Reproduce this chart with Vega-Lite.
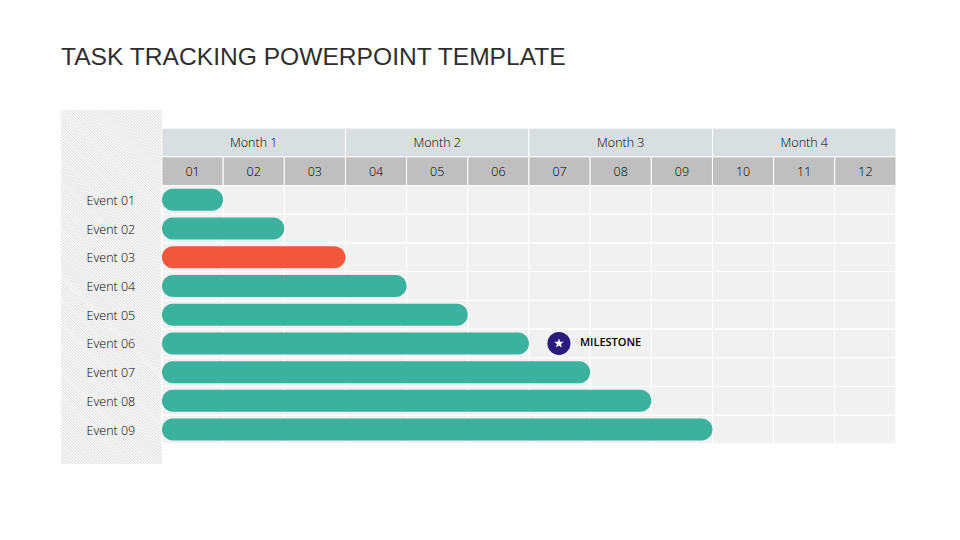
{
"$schema":"https://vega.github.io/schema/vega-lite/v6.json",
"width":835,"height":354,
"autosize":"none",
"padding":{"left":61,"top":110,"right":64,"bottom":76},
"background":"white",
"title":{"text":"TASK TRACKING POWERPOINT TEMPLATE","anchor":"start","frame":"group","font":"Liberation Sans","fontSize":24.6,"fontWeight":"normal","color":"#2e2e2e","offset":20,"baseline":"alphabetic"},
"config":{"view":{"stroke":null}},
"datasets":{
"months":[{"label":"Month 1","s":0,"e":3,"c":1.5},{"label":"Month 2","s":3,"e":6,"c":4.5},{"label":"Month 3","s":6,"e":9,"c":7.5},{"label":"Month 4","s":9,"e":12,"c":10.5}],
"cols":[{"label":"01","s":0,"e":1,"c":0.5},{"label":"02","s":1,"e":2,"c":1.5},{"label":"03","s":2,"e":3,"c":2.5},{"label":"04","s":3,"e":4,"c":3.5},{"label":"05","s":4,"e":5,"c":4.5},{"label":"06","s":5,"e":6,"c":5.5},{"label":"07","s":6,"e":7,"c":6.5},{"label":"08","s":7,"e":8,"c":7.5},{"label":"09","s":8,"e":9,"c":8.5},{"label":"10","s":9,"e":10,"c":9.5},{"label":"11","s":10,"e":11,"c":10.5},{"label":"12","s":11,"e":12,"c":11.5}],
"tasks":[{"task":"Event 01","row":0.5,"top":0,"bottom":1,"start":0,"end":1,"status":"normal"},{"task":"Event 02","row":1.5,"top":1,"bottom":2,"start":0,"end":2,"status":"normal"},{"task":"Event 03","row":2.5,"top":2,"bottom":3,"start":0,"end":3,"status":"critical"},{"task":"Event 04","row":3.5,"top":3,"bottom":4,"start":0,"end":4,"status":"normal"},{"task":"Event 05","row":4.5,"top":4,"bottom":5,"start":0,"end":5,"status":"normal"},{"task":"Event 06","row":5.5,"top":5,"bottom":6,"start":0,"end":6,"status":"normal"},{"task":"Event 07","row":6.5,"top":6,"bottom":7,"start":0,"end":7,"status":"normal"},{"task":"Event 08","row":7.5,"top":7,"bottom":8,"start":0,"end":8,"status":"normal"},{"task":"Event 09","row":8.5,"top":8,"bottom":9,"start":0,"end":9,"status":"normal"}],
"milestone":[{"label":"MILESTONE","month":6.49,"row":5.5}]
},
"layer":[
{"data":{"values":[{"a":-2.69,"b":1.02,"p":7.49,"q":-0.42}]},
 "mark":{"type":"rule","clip":true,"strokeWidth":330,"stroke":"#dedede","strokeDash":[1,1.1]},
 "encoding":{"x":{"field":"a","type":"quantitative","axis":null,"scale":{"domain":[-1.65,12],"nice":false,"zero":false,"padding":0}},"x2":{"field":"b"},"y":{"field":"p","type":"quantitative","axis":null,"scale":{"domain":[-2.63,9.7],"nice":false,"zero":false,"reverse":true,"padding":0}},"y2":{"field":"q"}}},
{"data":{"values":[{"a":0,"b":12,"p":-2.63,"q":9.7}]},
 "mark":{"type":"rect","fill":"white"},
 "encoding":{"x":{"field":"a","type":"quantitative","axis":null},"x2":{"field":"b"},"y":{"field":"p","type":"quantitative","axis":null},"y2":{"field":"q"}}},
{"data":{"name":"cols"},
 "mark":{"type":"rect","fill":"#f1f1f1","stroke":"white","strokeWidth":1},
 "encoding":{"x":{"field":"s","type":"quantitative","axis":null},"x2":{"field":"e"},"y":{"datum":0,"type":"quantitative","axis":null},"y2":{"datum":9}}},
{"data":{"name":"tasks"},
 "mark":{"type":"rect","fillOpacity":0,"stroke":"white","strokeWidth":1},
 "encoding":{"x":{"datum":0,"type":"quantitative","axis":null},"x2":{"datum":12},"y":{"field":"top","type":"quantitative","axis":null},"y2":{"field":"bottom"}}},
{"data":{"name":"months"},
 "mark":{"type":"rect","fill":"#d9dee1","stroke":"white","strokeWidth":1},
 "encoding":{"x":{"field":"s","type":"quantitative","axis":null},"x2":{"field":"e"},"y":{"datum":-2,"type":"quantitative","axis":null},"y2":{"datum":-1}}},
{"data":{"name":"cols"},
 "mark":{"type":"rect","fill":"#bfbfbf","stroke":"white","strokeWidth":1},
 "encoding":{"x":{"field":"s","type":"quantitative","axis":null},"x2":{"field":"e"},"y":{"datum":-1,"type":"quantitative","axis":null},"y2":{"datum":0}}},
{"data":{"name":"months"},
 "mark":{"type":"text","font":"Open Sans","fontWeight":300,"fontSize":12.5,"color":"#000000","dy":1},
 "encoding":{"x":{"field":"c","type":"quantitative","axis":null},"y":{"datum":-1.5,"type":"quantitative","axis":null},"text":{"field":"label"}}},
{"data":{"name":"cols"},
 "mark":{"type":"text","font":"Open Sans","fontWeight":300,"fontSize":12.5,"color":"#000000","dy":1},
 "encoding":{"x":{"field":"c","type":"quantitative","axis":null},"y":{"datum":-0.5,"type":"quantitative","axis":null},"text":{"field":"label"}}},
{"data":{"name":"tasks"},
 "mark":{"type":"text","font":"Open Sans","fontWeight":300,"fontSize":12.5,"color":"#000000","dy":1},
 "encoding":{"x":{"datum":-0.834,"type":"quantitative","axis":null},"y":{"field":"row","type":"quantitative","axis":null},"text":{"field":"task"}}},
{"data":{"name":"tasks"},
 "mark":{"type":"bar","orient":"horizontal","size":22,"cornerRadius":11},
 "encoding":{"x":{"field":"start","type":"quantitative","axis":null},"x2":{"field":"end"},"y":{"field":"row","type":"quantitative","axis":null},"color":{"field":"status","type":"nominal","legend":null,"scale":{"domain":["normal","critical"],"range":["#3cb29e","#f0573b"]}}}},
{"data":{"name":"milestone"},
 "mark":{"type":"point","shape":"circle","filled":true,"size":530,"color":"#2a1a7e","opacity":1},
 "encoding":{"x":{"field":"month","type":"quantitative","axis":null},"y":{"field":"row","type":"quantitative","axis":null}}},
{"data":{"name":"milestone"},
 "mark":{"type":"point","shape":"M0,-1L.247,-.34L.951,-.309L.4,.13L.588,.809L0,.42L-.588,.809L-.4,.13L-.951,-.309L-.247,-.34Z","filled":true,"size":100,"color":"white","opacity":1},
 "encoding":{"x":{"field":"month","type":"quantitative","axis":null},"y":{"field":"row","type":"quantitative","axis":null}}},
{"data":{"name":"milestone"},
 "mark":{"type":"text","font":"Open Sans","fontWeight":600,"fontSize":11,"color":"#000000","align":"left","dx":21},
 "encoding":{"x":{"field":"month","type":"quantitative","axis":null},"y":{"field":"row","type":"quantitative","axis":null},"text":{"field":"label"}}}
]
}
